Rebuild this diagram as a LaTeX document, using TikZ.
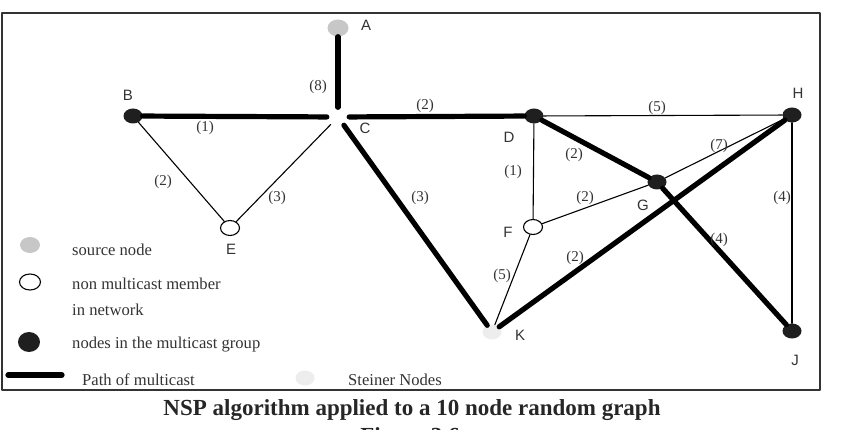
\documentclass[tikz,border=0pt]{standalone}
\usepackage{fontspec}
\setmainfont{Liberation Serif}
\newfontfamily\lettersf{Liberation Sans}
\usetikzlibrary{shapes.geometric}
\tikzset{
  vertex/.style={ellipse, inner sep=0pt, minimum width=19pt, minimum height=15pt},
  member/.style={vertex, fill=black!88},
  nonmember/.style={vertex, draw, line width=1.1pt, fill=white},
  source/.style={vertex, fill=black!22, minimum width=21pt, minimum height=17pt},
  steiner/.style={vertex, fill=black!7},
  mcpath/.style={line width=5.2pt},
  link/.style={line width=1.1pt},
  weight/.style={font=\fontsize{15}{15}\selectfont, text=black!80, inner sep=0pt},
  letter/.style={font=\lettersf\fontsize{15}{15}\selectfont, text=black!80, inner sep=0pt},
  legend/.style={font=\fontsize{16.6}{16.6}\selectfont, text=black!80, anchor=west, inner sep=0pt}
}
\begin{document}
\begin{tikzpicture}[x=1pt, y=-1pt, line join=round, line cap=round]
	\useasboundingbox (0,0) rectangle (854,430);
	\draw[line width=1.5pt, black!80] (2,13) rectangle (820,390);
	% graph nodes
	\node[source] (A) at (338,28) {};
	\node[member] (B) at (133,116) {};
	\node[vertex, fill=white, minimum width=22pt, minimum height=19pt] (C) at (338,117) {};
	\node[member] (D) at (534,116) {};
	\node[nonmember] (E) at (230,228) {};
	\node[nonmember] (F) at (533,227) {};
	\node[member] (G) at (657,182) {};
	\node[member] (H) at (792,115) {};
	\node[member] (J) at (792,331) {};
	\node[steiner] (K) at (492,332) {};
	% node letters
	\node[letter] (lA) at (366,25) {A};
	\node[letter] (lB) at (128,95) {B};
	\node[letter] (lC) at (365,128) {C};
	\node[letter] (lD) at (509,137) {D};
	\node[letter] (lE) at (231,249) {E};
	\node[letter] (lF) at (508,232) {F};
	\node[letter] (lG) at (643,205) {G};
	\node[letter] (lH) at (798,93) {H};
	\node[letter] (lJ) at (795,360) {J};
	\node[letter] (lK) at (520,335) {K};
	% links of the network
	\draw[link] (B) -- (E);
	\draw[link] (C) -- (E);
	\draw[link] (D) -- (H);
	\draw[link] (D) -- (F);
	\draw[link] (F) -- (G);
	\draw[link] (G) -- (H);
	\draw[link] (H) -- (J);
	\draw[link] (F) -- (K);
	% multicast path
	\draw[mcpath] (A) -- (C);
	\draw[mcpath] (B) -- (C);
	\draw[mcpath] (C) -- (D);
	\draw[mcpath] (C) -- (K);
	\draw[mcpath] (D) -- (G);
	\draw[mcpath] (G) -- (J);
	\draw[mcpath] (H) -- (K);
	% weights
	\node[weight] (wAC) at (318,87) {(8)};
	\node[weight] (wBC) at (205,128) {(1)};
	\node[weight] (wCD) at (425,106) {(2)};
	\node[weight] (wDH) at (657,108) {(5)};
	\node[weight] (wDG) at (574,155) {(2)};
	\node[weight] (wDF) at (513,172) {(1)};
	\node[weight] (wGH) at (719,146) {(7)};
	\node[weight] (wFG) at (585,198) {(2)};
	\node[weight] (wHJ) at (782,198) {(4)};
	\node[weight] (wBE) at (163,182) {(2)};
	\node[weight] (wCE) at (277,198) {(3)};
	\node[weight] (wCK) at (420,198) {(3)};
	\node[weight] (wFK) at (502,276) {(5)};
	\node[weight] (wHK) at (575,258) {(2)};
	\node[weight] (wGJ) at (719,240) {(4)};
	% legend
	\node[source, minimum width=20pt, minimum height=16pt] (lsrc) at (30,245) {};
	\node[legend] (tsrc) at (72,250) {source node};
	\node[nonmember, minimum width=21pt, minimum height=16pt] (lnon) at (30,282) {};
	\node[legend] (tnon) at (72,284) {non multicast member};
	\node[legend] (tnet) at (72,310) {in network};
	\node[member, minimum width=22pt, minimum height=20pt] (lmem) at (29,342) {};
	\node[legend] (tmem) at (72,345) {nodes in the multicast group};
	\coordinate (lp1) at (8,375);
	\coordinate (lp2) at (62,375);
	\draw[mcpath] (lp1) -- (lp2);
	\node[legend] (tpath) at (82,380) {Path of multicast};
	\node[steiner] (lst) at (305,378) {};
	\node[legend] (tst) at (348,380) {Steiner Nodes};
	% caption
	\node[font=\bfseries\fontsize{23}{23}\selectfont, text=black!85] (title) at (412,410) {NSP algorithm applied to a 10 node random graph};
	\node[font=\bfseries\fontsize{23}{23}\selectfont, text=black!85] (fig) at (410,438) {Figure 3.6};
\end{tikzpicture}
\end{document}
